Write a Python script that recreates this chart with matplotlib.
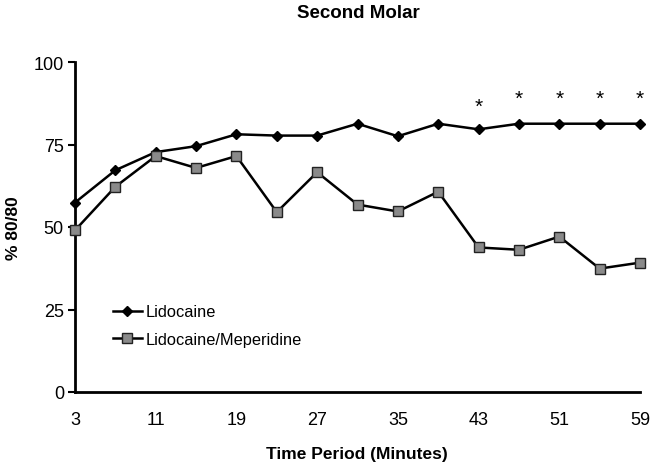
import matplotlib
matplotlib.use("Agg")
import matplotlib.pyplot as plt

minutes = [3, 7, 11, 15, 19, 23, 27, 31, 35, 39, 43, 47, 51, 55, 59]
lidocaine = [57.4, 67.2, 72.7, 74.5, 78.1, 77.7, 77.7, 81.3, 77.5, 81.3, 79.6, 81.3, 81.3, 81.3, 81.3]
lido_mep = [49.0, 62.2, 71.5, 67.9, 71.5, 54.5, 66.6, 56.8, 54.7, 60.7, 43.8, 43.1, 47.1, 37.4, 39.2]
star_x = [43, 47, 51, 55, 59]
star_y = [86.5, 89.0, 89.0, 89.0, 89.0]
xticks = [3, 11, 19, 27, 35, 43, 51, 59]
yticks = [0, 25, 50, 75, 100]

plt.rcParams['font.family'] = ['Liberation Sans', 'DejaVu Sans']

fig = plt.figure(figsize=(6.5, 4.64), dpi=100)
ax = fig.add_axes([75/650, 71/464, 565/650, 330/464])

ax.plot(minutes, lidocaine, color='black', lw=1.8, marker='D', ms=5.5,
        mfc='black', mec='black', label='Lidocaine', clip_on=False, zorder=3)
ax.plot(minutes, lido_mep, color='black', lw=1.8, marker='s', ms=7.5,
        mfc='#8a8a8a', mec='#222222', mew=1.0, label='Lidocaine/Meperidine', clip_on=False, zorder=3)

for x, y in zip(star_x, star_y):
    ax.text(x, y, '*', ha='center', va='center', fontsize=15)

ax.set_xlim(3, 59)
ax.set_ylim(0, 100)
ax.set_xticks(xticks)
ax.set_yticks(yticks)
ax.tick_params(axis='x', length=0, pad=14, labelsize=13)
ax.tick_params(axis='y', length=5, width=1.5, direction='out', pad=3, labelsize=13)
for s in ['top', 'right']:
    ax.spines[s].set_visible(False)
for s in ['left', 'bottom']:
    ax.spines[s].set_linewidth(2)

fig.text(357/650, 1 - 455/464, 'Time Period (Minutes)', fontsize=12.5, fontweight='bold',
         ha='center', va='center')
fig.text(14/650, 1 - 228/464, '% 80/80', fontsize=12.5, fontweight='bold',
         ha='center', va='center', rotation=90)
fig.text(358/650, 1 - 13/464, 'Second Molar', fontsize=13.5, fontweight='bold',
         ha='center', va='center')

ax.legend(loc='upper left', bbox_to_anchor=(0.052, 0.29), frameon=False, fontsize=11.8,
          handlelength=1.8, handletextpad=0.2, labelspacing=0.75, borderpad=0)

fig.savefig('out.png', dpi=100)
